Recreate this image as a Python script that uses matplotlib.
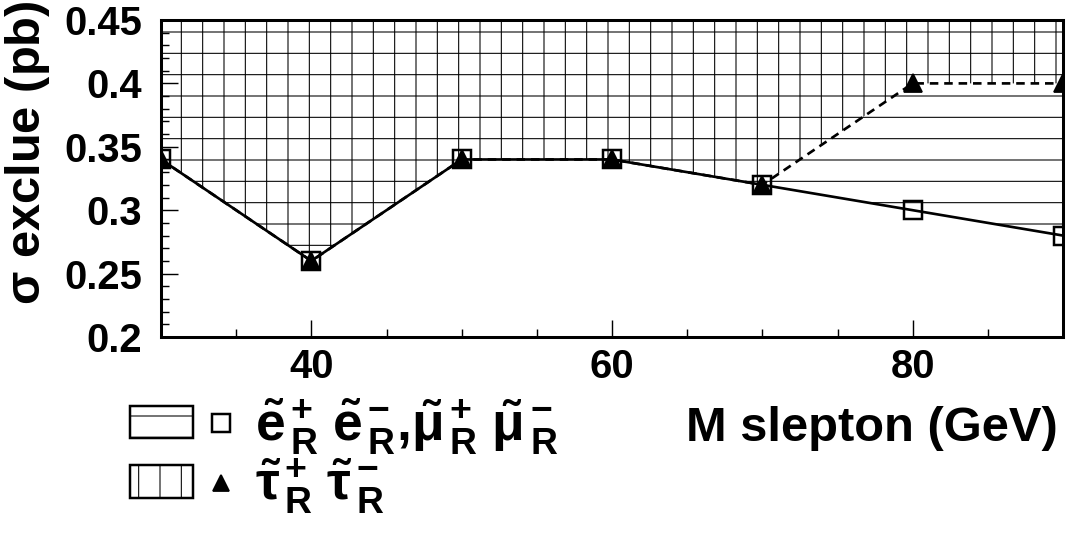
import matplotlib
matplotlib.use("Agg")
import matplotlib.pyplot as plt
from matplotlib.patches import Patch
from matplotlib.lines import Line2D
from matplotlib.legend_handler import HandlerTuple
from matplotlib.ticker import FixedLocator, FixedFormatter, MultipleLocator

# ---- data ----
mass = [30, 40, 50, 60, 70, 80, 90]
sigma_emu = [0.34, 0.26, 0.34, 0.34, 0.32, 0.30, 0.28]
sigma_tau = [0.34, 0.26, 0.34, 0.34, 0.32, 0.40, 0.40]
ytick_vals = [0.2, 0.25, 0.3, 0.35, 0.4, 0.45]
ytick_labels = ["0.2", "0.25", "0.3", "0.35", "0.4", "0.45"]
xtick_vals = [40, 60, 80]
xtick_labels = ["40", "60", "80"]
label_emu = (r"$\tilde{\mathbf{e}}^{\,\mathbf{+}}_{\,\mathbf{R}}\;\tilde{\mathbf{e}}^{\,\mathbf{-}}_{\,\mathbf{R}}"
             r"{,}\tilde{\mathsf{\mu}}^{\,\mathbf{+}}_{\,\mathbf{R}}\;\tilde{\mathsf{\mu}}^{\,\mathbf{-}}_{\,\mathbf{R}}$")
label_tau = r"$\tilde{\mathsf{\tau}}^{\,\mathbf{+}}_{\,\mathbf{R}}\;\tilde{\mathsf{\tau}}^{\,\mathbf{-}}_{\,\mathbf{R}}$"
xlabel = "M slepton (GeV)"
ylabel = r"$\mathsf{\sigma}$ exclue (pb)"

plt.rcParams["font.family"] = ["Liberation Sans", "DejaVu Sans"]
plt.rcParams["font.weight"] = "bold"
plt.rcParams["mathtext.fontset"] = "custom"
plt.rcParams["mathtext.rm"] = "Liberation Sans:bold"
plt.rcParams["mathtext.bf"] = "Liberation Sans:bold"
plt.rcParams["mathtext.it"] = "Liberation Sans:italic"
plt.rcParams["mathtext.sf"] = "Liberation Sans"
plt.rcParams["hatch.linewidth"] = 0.6

DPI = 128
fig = plt.figure(figsize=(1067 / DPI, 535 / DPI), dpi=DPI)
ax = fig.add_axes([161 / 1067, 1 - 337 / 535, (1063 - 161) / 1067, (337 - 20) / 535])

ymax = 0.45
ax.fill_between(mass, sigma_emu, ymax, facecolor="none", edgecolor="black",
                hatch="-", linewidth=0)
ax.fill_between(mass, sigma_tau, ymax, facecolor="none", edgecolor="black",
                hatch="|", linewidth=0)

ax.plot(mass, sigma_tau, linestyle=(0, (3.2, 2.2)), color="black", linewidth=1.5,
        marker="^", markersize=10, markerfacecolor="black", markeredgecolor="black",
        zorder=3)
ax.plot(mass, sigma_emu, linestyle="-", color="black", linewidth=1.5,
        marker="s", markersize=10, markerfacecolor="none", markeredgecolor="black",
        markeredgewidth=1.4, zorder=4)

ax.set_xlim(30, 90)
ax.set_ylim(0.2, 0.45)

ax.xaxis.set_major_locator(FixedLocator(xtick_vals))
ax.xaxis.set_major_formatter(FixedFormatter(xtick_labels))
ax.xaxis.set_minor_locator(MultipleLocator(5))
ax.yaxis.set_major_locator(FixedLocator(ytick_vals))
ax.yaxis.set_major_formatter(FixedFormatter(ytick_labels))
ax.yaxis.set_minor_locator(MultipleLocator(0.01))

ax.tick_params(axis="both", which="both", direction="in", top=False, right=False)
ax.tick_params(axis="both", which="major", length=9.5, width=0.8, labelsize=22.5)
ax.tick_params(axis="both", which="minor", length=4.5, width=0.8)
ax.tick_params(axis="x", which="major", pad=6)
ax.tick_params(axis="y", which="major", pad=10.5)
for lab in ax.get_xticklabels() + ax.get_yticklabels():
    lab.set_fontweight("bold")

for sp in ax.spines.values():
    sp.set_linewidth(1.7)
    sp.set_zorder(5)

ax.set_xlabel(xlabel, fontsize=27.5, fontweight="bold", ha="right", va="baseline")
ax.xaxis.set_label_coords((1058 - 161) / 902, (337 - 441) / 317)
ax.set_ylabel(ylabel, fontsize=27.5, fontweight="bold", ha="right", va="bottom")
ax.yaxis.set_label_coords((52 - 161) / 902, 1.063)

# ---- legend ----
fs = 30
h_emu = (Patch(facecolor="white", edgecolor="black", hatch="-", linewidth=1.4),
         Line2D([], [], linestyle="", marker="s", markersize=10, markerfacecolor="none",
                markeredgecolor="black", markeredgewidth=1.4))
h_tau = (Patch(facecolor="white", edgecolor="black", hatch="|", linewidth=1.4),
         Line2D([], [], linestyle="", marker="^", markersize=9, markerfacecolor="black",
                markeredgecolor="black"))
fig.legend(handles=[h_emu, h_tau], labels=[label_emu, label_tau],
           handler_map={tuple: HandlerTuple(ndivide=None, pad=-0.066)},
           loc="upper left", bbox_to_anchor=(130 / 1067, 1 - 396 / 535),
           frameon=False, fontsize=fs, handlelength=68.9 / fs,
           handleheight=16.9 / fs, handletextpad=0.05, labelspacing=0.0,
           borderaxespad=0, borderpad=0)

fig.savefig("out.png", dpi=DPI)
